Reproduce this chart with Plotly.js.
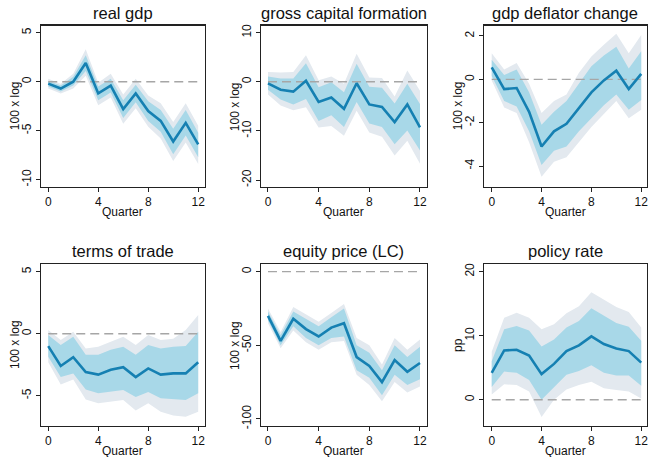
<!DOCTYPE html>
<html>
<head>
<meta charset="utf-8">
<script src="https://cdn.plot.ly/plotly-3.0.1.min.js"></script>
<style>html,body{margin:0;padding:0;background:#fff;}#chart{width:649px;height:457px;}</style>
</head>
<body>
<div id="chart"></div>
<script>
const quarters = [0,1,2,3,4,5,6,7,8,9,10,11,12];
const xTicks = [0,4,8,12];

const panelTitles = ["real gdp","gross capital formation","gdp deflator change","terms of trade","equity price (LC)","policy rate"];
const yTitles = ["100 x log","100 x log","100 x log","100 x log","100 x log","pp"];
const xTitle = "Quarter";
const yTickVals = [[-10,-5,0,5],[-20,-10,0,10],[-4,-2,0,2],[-5,0,5],[-100,-50,0],[0,10,20]];

// real gdp
const gdpMean  = [-0.2,-0.7,0,1.9,-1.2,-0.4,-2.8,-1.2,-3.0,-4.0,-6.1,-4.2,-6.4];
const gdpHi68  = [0.1,-0.4,0.5,2.7,-0.5,0.3,-1.9,-0.3,-2.0,-2.9,-4.8,-2.9,-5.2];
const gdpLo68  = [-0.5,-1.0,-0.4,1.1,-1.9,-1.1,-3.7,-2.1,-4.0,-5.1,-7.4,-5.5,-7.7];
const gdpHi90  = [0.3,-0.2,0.8,3.3,-0.1,0.8,-1.3,0.3,-1.4,-2.2,-4.1,-2.2,-4.5];
const gdpLo90  = [-0.7,-1.2,-0.7,0.6,-2.4,-1.6,-4.3,-2.7,-4.6,-5.8,-8.1,-6.2,-8.4];

// gross capital formation
const gcfMean  = [-0.3,-1.6,-2.0,0.2,-4.1,-3.2,-5.5,-0.3,-4.6,-5.1,-8.2,-4.6,-9.3];
const gcfHi68  = [1.1,0.7,0.7,3.8,-1.1,-0.1,-2.1,3.7,-1.0,-1.2,-4.4,-0.4,-4.5];
const gcfLo68  = [-1.6,-3.6,-4.6,-3.5,-8.0,-6.8,-9.2,-4.1,-8.5,-9.2,-12.7,-9.9,-14.0];
const gcfHi90  = [2.0,1.9,2.0,5.4,0.3,1.1,-0.4,5.7,0.9,0.8,-3.0,2.3,-1.8];
const gcfLo90  = [-2.6,-4.8,-5.8,-5.2,-9.3,-9.0,-11.0,-5.9,-10.3,-11.2,-15.0,-12.0,-16.7];

// gdp deflator change
const defMean  = [0.55,-0.45,-0.4,-1.5,-3.1,-2.4,-2.05,-1.3,-0.6,-0.05,0.4,-0.45,0.25];
const defHi68  = [0.9,0.2,0.45,-0.6,-2.1,-1.5,-1.0,-0.2,0.6,1.1,1.5,0.5,1.3];
const defLo68  = [0.15,-1.0,-1.25,-2.4,-3.95,-3.3,-3.1,-2.4,-1.8,-1.2,-0.7,-1.4,-0.95];
const defHi90  = [1.2,0.45,0.75,-0.2,-1.55,-1.0,-0.7,0.3,1.05,1.6,2.1,1.2,2.05];
const defLo90  = [-0.05,-1.3,-1.55,-2.9,-4.5,-3.8,-3.6,-2.9,-2.2,-1.6,-1.0,-1.8,-1.4];

// terms of trade
const totMean  = [-1.0,-2.6,-1.9,-3.1,-3.3,-2.9,-2.7,-3.5,-2.8,-3.3,-3.2,-3.2,-2.3];
const totHi68  = [-0.1,-0.9,-0.25,-1.7,-1.7,-1.3,-1.05,-1.7,-0.9,-1.2,-1.05,-1.0,0.15];
const totLo68  = [-1.85,-3.5,-3.2,-4.5,-4.8,-4.7,-4.55,-5.1,-4.7,-5.2,-5.3,-5.35,-4.8];
const totHi90  = [0.3,-0.5,0.15,-1.2,-1.05,-0.65,-0.25,-0.9,-0.1,-0.5,-0.4,0.3,1.5];
const totLo90  = [-2.3,-4.1,-3.7,-5.3,-5.6,-5.5,-5.35,-6.2,-5.6,-6.3,-6.6,-6.7,-6.3];

// equity price (LC)
const eqMean   = [-30,-47,-32,-39,-44,-38,-35,-58,-64,-75,-60,-68,-62];
const eqHi68   = [-27,-43,-27,-32,-37,-31,-25,-50,-55,-67,-50,-58,-51];
const eqLo68   = [-33,-50,-37,-45,-50,-45,-44,-67,-72,-84,-70,-77,-73];
const eqHi90   = [-25,-41,-24,-29,-34,-28,-22,-45,-50,-63,-45,-53,-46];
const eqLo90   = [-35,-52,-40,-48,-53,-48,-47,-70,-77,-88,-75,-82,-78];

// policy rate
const prMean   = [4.2,7.7,7.8,6.9,4.0,5.6,7.6,8.5,9.9,8.7,8.0,7.6,5.8];
const prHi68   = [6.0,11.0,11.5,10.8,8.3,9.4,11.3,12.3,14.3,13.1,12.0,11.4,9.2];
const prLo68   = [2.0,4.4,4.2,3.1,0.0,1.9,3.9,4.5,5.4,4.2,3.8,3.8,2.2];
const prHi90   = [7.5,12.8,13.6,12.8,11.0,11.8,13.5,14.6,16.8,15.7,14.5,13.7,11.3];
const prLo90   = [0.8,2.4,2.3,1.3,-2.7,0.0,1.6,2.3,2.8,1.8,1.5,1.3,0.2];

const zeroX = [0,12];
const zeroY = [0,0];

const panels = [
  [gdpMean,gdpHi68,gdpLo68,gdpHi90,gdpLo90],
  [gcfMean,gcfHi68,gcfLo68,gcfHi90,gcfLo90],
  [defMean,defHi68,defLo68,defHi90,defLo90],
  [totMean,totHi68,totLo68,totHi90,totLo90],
  [eqMean,eqHi68,eqLo68,eqHi90,eqLo90],
  [prMean,prHi68,prLo68,prHi90,prLo90]
];

// layout geometry (pixels)
const W = 649, H = 457;
const colPx = [[41,204.7],[261,426.7],[484,646.7]];
const rowPx = [[25.7,186.7],[264.3,425.7]];
const xRanges = [[-0.58,12.52],[-0.55,12.53],[-0.62,12.44]];
const yRanges = [[-10.71,5.71],[-21.36,11.43],[-4.955,2.475],[-7.42,5.6],[-104.6,5.0],[-4.06,21.16]];

const outerCol = '#e3e9ef';
const innerCol = '#a8d8e8';
const lineCol = '#1580b2';
const fontFam = 'Liberation Sans, Arial, Helvetica, sans-serif';

const traces = [];
const layout = {
  width: W, height: H,
  margin: {l:0,r:0,t:0,b:0},
  paper_bgcolor: '#fff', plot_bgcolor: '#fff',
  showlegend: false,
  font: {family: fontFam, color: '#111', size: 12},
  annotations: []
};

panels.forEach((p, i) => {
  const r = Math.floor(i/3), c = i%3;
  const n = i+1;
  const xa = 'x'+(n===1?'':n), ya = 'y'+(n===1?'':n);
  const [mean, hi68, lo68, hi90, lo90] = p;
  traces.push({x: quarters, y: lo90, xaxis: xa, yaxis: ya, mode:'lines', line:{width:0,color:outerCol}, hoverinfo:'skip'});
  traces.push({x: quarters, y: hi90, xaxis: xa, yaxis: ya, mode:'lines', line:{width:0,color:outerCol}, fill:'tonexty', fillcolor: outerCol, hoverinfo:'skip'});
  traces.push({x: quarters, y: lo68, xaxis: xa, yaxis: ya, mode:'lines', line:{width:0,color:innerCol}, hoverinfo:'skip'});
  traces.push({x: quarters, y: hi68, xaxis: xa, yaxis: ya, mode:'lines', line:{width:0,color:innerCol}, fill:'tonexty', fillcolor: innerCol, hoverinfo:'skip'});
  traces.push({x: zeroX, y: zeroY, xaxis: xa, yaxis: ya, mode:'lines', line:{width:1.4,color:'#a6a6a6',dash:'9px,5px'}, hoverinfo:'skip'});
  traces.push({x: quarters, y: mean, xaxis: xa, yaxis: ya, mode:'lines', line:{width:2.6,color:lineCol}});

  const xd = [colPx[c][0]/W, colPx[c][1]/W];
  const yd = [1-rowPx[r][1]/H, 1-rowPx[r][0]/H];
  const axBase = {showline:true, mirror:true, linecolor:'#222', linewidth:1.3, showgrid:false, zeroline:false,
                  ticks:'outside', ticklen:4, tickwidth:1, tickcolor:'#222', tickfont:{size:12, family: fontFam, color:'#111'}};
  layout['xaxis'+(n===1?'':n)] = Object.assign({}, axBase, {
    domain: xd, anchor: ya, range: xRanges[c], tickvals: xTicks, ticktext: xTicks.map(String)
  });
  layout['yaxis'+(n===1?'':n)] = Object.assign({}, axBase, {
    domain: yd, anchor: xa, range: yRanges[i], tickvals: yTickVals[i], ticktext: yTickVals[i].map(String),
    tickangle: -90
  });
  // panel title
  layout.annotations.push({
    text: panelTitles[i], xref:'paper', yref:'paper', x:(xd[0]+xd[1])/2, y: yd[1], yanchor:'bottom', xanchor:'center',
    yshift: 2, showarrow:false, font:{size:16.5, family: fontFam, color:'#111'}
  });
  // x title
  layout.annotations.push({
    text: xTitle, xref:'paper', yref:'paper', x:(colPx[c][0]+colPx[c][1])/2/W, y: 1-(rowPx[r][1]+25)/H,
    yanchor:'middle', xanchor:'center', showarrow:false, font:{size:12, family: fontFam, color:'#111'}
  });
  // y title
  layout.annotations.push({
    text: yTitles[i], xref:'paper', yref:'paper', x:(colPx[c][0]-26)/W, y:(yd[0]+yd[1])/2,
    yanchor:'middle', xanchor:'center', textangle:-90, showarrow:false, font:{size:12, family: fontFam, color:'#111'}
  });
});

Plotly.newPlot('chart', traces, layout, {staticPlot:true, displayModeBar:false});
</script>
</body>
</html>
